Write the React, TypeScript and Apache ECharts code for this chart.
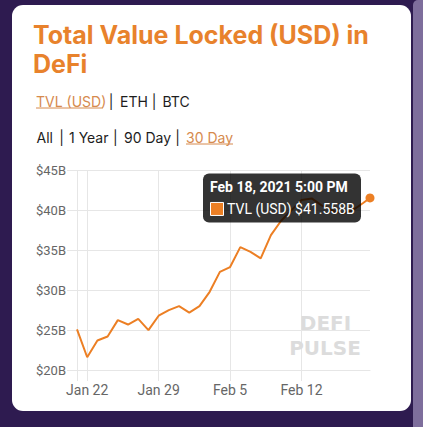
import React, { useEffect, useRef } from "react";
import * as echarts from "echarts";

const dates = [
  "2021-01-21T00:00", "2021-01-22T00:00", "2021-01-23T00:00", "2021-01-24T00:00", "2021-01-25T00:00",
  "2021-01-26T00:00", "2021-01-27T00:00", "2021-01-28T00:00", "2021-01-29T00:00", "2021-01-30T00:00",
  "2021-01-31T00:00", "2021-02-01T00:00", "2021-02-02T00:00", "2021-02-03T00:00", "2021-02-04T00:00",
  "2021-02-05T00:00", "2021-02-06T00:00", "2021-02-07T00:00", "2021-02-08T00:00", "2021-02-09T00:00",
  "2021-02-10T00:00", "2021-02-11T00:00", "2021-02-12T00:00", "2021-02-13T00:00", "2021-02-14T00:00",
  "2021-02-15T00:00", "2021-02-16T00:00", "2021-02-17T00:00", "2021-02-18T00:00", "2021-02-18T17:00",
];
const tvlBillions = [
  25.1, 21.6, 23.7, 24.2, 26.25, 25.7, 26.4, 25.0, 26.8, 27.5,
  28.0, 27.2, 28.0, 29.8, 32.3, 32.9, 35.4, 34.8, 34.0, 36.9,
  38.7, 40.0, 41.3, 41.5, 40.6, 40.0, 39.6, 40.0, 40.9, 41.558,
];
const tickDates = ["2021-01-22T00:00", "2021-01-29T00:00", "2021-02-05T00:00", "2021-02-12T00:00"];
const tickLabels = ["Jan 22", "Jan 29", "Feb 5", "Feb 12"];
const yTicks = [20, 25, 30, 35, 40, 45];
const monthNames = ["Jan", "Feb", "Mar", "Apr", "May", "Jun", "Jul", "Aug", "Sep", "Oct", "Nov", "Dec"];
const metricLinks = ["TVL (USD)", "ETH", "BTC"];
const rangeLinks = ["All", "1 Year", "90 Day", "30 Day"];

const ORANGE = "#ec7f24";
const LINK = "#d68a4e";
const GRID = "#e6e6e6";

function ts(s: string) {
  return new Date(s).getTime();
}

function fmtTooltipDate(s: string) {
  const d = new Date(s);
  let h = d.getHours();
  const ampm = h >= 12 ? "PM" : "AM";
  h = h % 12;
  if (h === 0) h = 12;
  const m = String(d.getMinutes()).padStart(2, "0");
  return `${monthNames[d.getMonth()]} ${d.getDate()}, ${d.getFullYear()} ${h}:${m} ${ampm}`;
}

function linkRow(
  labels: string[],
  xs: number[],
  sepXs: number[],
  y: number,
  activeIdx: number,
  widths: number[]
) {
  const out: any[] = [];
  labels.forEach((t, i) => {
    const active = i === activeIdx;
    out.push({
      type: "text",
      x: xs[i],
      y,
      style: { text: t, fill: active ? LINK : "#1d1d1d", font: "14px Inter", verticalAlign: "middle" },
    });
    if (active) {
      out.push({
        type: "line",
        shape: { x1: xs[i], y1: y + 7, x2: xs[i] + widths[i], y2: y + 7 },
        style: { stroke: LINK, lineWidth: 1 },
      });
    }
  });
  sepXs.forEach((sx) => {
    out.push({
      type: "text",
      x: sx,
      y,
      style: { text: "|", fill: "#1d1d1d", font: "14px Inter", verticalAlign: "middle", align: "center" },
    });
  });
  return out;
}

export default function App() {
  const ref = useRef<HTMLDivElement>(null);
  useEffect(() => {
    if (!ref.current) return;
    const chart = echarts.init(ref.current, null, { renderer: "svg" });
    const data = dates.map((d, i) => [ts(d), tvlBillions[i] * 1e9]);
    const tickTs = tickDates.map(ts);
    const minT = ts(dates[0]);
    const maxT = ts(dates[dates.length - 1]);
    const option: any = {
      animation: false,
      backgroundColor: "transparent",
      grid: { left: 77, right: 53, top: 170.5, bottom: 57, containLabel: false },
      xAxis: {
        type: "value",
        min: minT,
        max: maxT,
        axisLine: { show: true, lineStyle: { color: GRID, width: 1 } },
        axisTick: { show: true, length: 11, lineStyle: { color: GRID }, customValues: [minT, ...tickTs] },
        splitLine: { show: true, lineStyle: { color: GRID, width: 1 } },
        axisLabel: {
          customValues: tickTs,
          color: "#666",
          fontFamily: "Roboto",
          fontSize: 14,
          margin: 13,
          formatter: (v: number) => {
            const i = tickTs.indexOf(v);
            return i >= 0 ? tickLabels[i] : "";
          },
        },
      },
      yAxis: {
        type: "value",
        min: yTicks[0] * 1e9,
        max: yTicks[yTicks.length - 1] * 1e9,
        interval: 5e9,
        axisLine: { show: true, lineStyle: { color: GRID, width: 1 } },
        axisTick: { show: true, length: 10, lineStyle: { color: GRID } },
        splitLine: { show: true, lineStyle: { color: GRID, width: 1 } },
        axisLabel: {
          color: "#666",
          fontFamily: "Roboto",
          fontSize: 13,
          margin: 11,
          formatter: (v: number) => `$${Math.round(v / 1e9)}B`,
        },
      },
      series: [
        {
          type: "line",
          data,
          showSymbol: true,
          symbol: "circle",
          symbolSize: (_v: any, p: any) => (p.dataIndex === data.length - 1 ? 9 : 0),
          itemStyle: { color: ORANGE },
          lineStyle: { color: ORANGE, width: 2 },
          z: 5,
        },
      ],
    };
    chart.setOption(option);

    const last = data[data.length - 1];
    const p = chart.convertToPixel({ xAxisIndex: 0, yAxisIndex: 0 }, last) as number[];
    const tw = 158;
    const th = 49;
    const tx = p[0] - 9 - tw;
    const ty = p[1] - th / 2;

    const graphic: any[] = [
      {
        type: "text",
        x: 33,
        y: 20.5,
        style: {
          text: "Total Value Locked (USD) in\nDeFi",
          fill: "#e8822c",
          font: "bold 25px Inter",
          lineHeight: 29,
          verticalAlign: "top",
          align: "left",
        },
      },
      ...linkRow(metricLinks, [36, 120, 162.5], [111, 154], 101, 0, [67, 24, 25]),
      ...linkRow(rangeLinks, [36.5, 69, 124, 186], [61.7, 115.3, 177.7], 137, 3, [16, 38, 45, 47]),
      {
        type: "text",
        x: 325.5,
        y: 323,
        z: 1,
        style: {
          text: "DEFI",
          fill: "#dcdcdc",
          font: "bold 20px 'DejaVu Sans'",
          align: "center",
          verticalAlign: "middle",
        },
      },
      {
        type: "text",
        x: 325,
        y: 347.5,
        z: 1,
        style: {
          text: "PULSE",
          fill: "#dcdcdc",
          font: "bold 20px 'DejaVu Sans'",
          align: "center",
          verticalAlign: "middle",
        },
      },
      {
        type: "group",
        z: 100,
        children: [
          {
            type: "rect",
            shape: { x: tx, y: ty, width: tw, height: th, r: 6 },
            style: { fill: "rgba(0,0,0,0.8)" },
            z: 100,
          },
          {
            type: "text",
            x: tx + 7,
            y: ty + 13.5,
            z: 101,
            style: {
              text: fmtTooltipDate(dates[dates.length - 1]),
              fill: "#fff",
              font: "bold 14px Roboto",
              verticalAlign: "middle",
            },
          },
          {
            type: "rect",
            shape: { x: tx + 7.5, y: ty + 29, width: 13, height: 13 },
            style: { fill: ORANGE, stroke: "#fff", lineWidth: 1 },
            z: 101,
          },
          {
            type: "text",
            x: tx + 24,
            y: ty + 36,
            z: 101,
            style: {
              text: `TVL (USD) $${tvlBillions[tvlBillions.length - 1].toFixed(3)}B`,
              fill: "#fff",
              font: "14px Roboto",
              verticalAlign: "middle",
            },
          },
        ],
      },
    ];
    chart.setOption({ graphic });
    return () => chart.dispose();
  }, []);

  return (
    <div style={{ position: "fixed", left: 0, top: 0, width: 423, height: 427, background: "#2e1b50", overflow: "hidden" }}>
      <div style={{ position: "absolute", left: 413, top: 0, width: 10, height: 427, background: "#7e6e9c", borderTopLeftRadius: 5 }} />
      <div style={{ position: "absolute", left: 12, top: 5, width: 399, height: 406, background: "#fff", borderRadius: 11 }} />
      <div ref={ref} style={{ position: "absolute", left: 0, top: 0, width: 423, height: 427 }} />
    </div>
  );
}
